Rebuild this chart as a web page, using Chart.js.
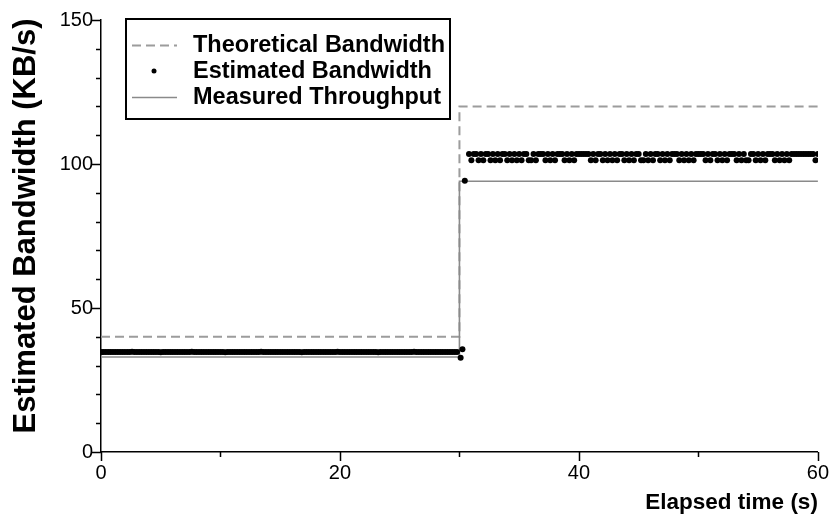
<!DOCTYPE html>
<html>
<head>
<meta charset="utf-8">
<title>Estimated Bandwidth</title>
<script src="https://cdn.jsdelivr.net/npm/chart.js@4.4.1/dist/chart.umd.min.js"></script>
<style>
  html, body { margin: 0; padding: 0; background: #fff; }
</style>
</head>
<body>
<canvas id="bandwidth-chart" width="838" height="522"></canvas>
<script>
// seconds between two bandwidth estimates
const SAMPLE_STEP = 0.2;

// step profiles (link capacity change at t = 30 s)
const stepTimes = [0, 30, 30, 60];
const theoreticalBw = [40, 40, 120, 120];
const measuredBw = [33, 33, 94, 94];

// estimates for t = 0 .. 29.8 s
const estLow = [
  34.7, 34.7, 34.7, 34.7, 34.7, 34.7, 34.7, 34.7, 34.7, 34.7,
  34.7, 34.7, 34.7, 34.8, 34.7, 34.7, 34.7, 34.7, 34.7, 34.7,
  34.7, 34.7, 34.7, 34.7, 34.7, 34.6, 34.7, 34.7, 34.7, 34.7,
  34.7, 34.7, 34.7, 34.7, 34.7, 34.7, 34.7, 34.7, 34.8, 34.7,
  34.7, 34.7, 34.7, 34.7, 34.7, 34.7, 34.7, 34.7, 34.7, 34.7,
  34.7, 34.7, 34.6, 34.7, 34.7, 34.7, 34.7, 34.7, 34.7, 34.7,
  34.7, 34.7, 34.7, 34.7, 34.7, 34.7, 34.7, 34.8, 34.7, 34.7,
  34.7, 34.7, 34.7, 34.7, 34.7, 34.7, 34.7, 34.7, 34.7, 34.7,
  34.7, 34.7, 34.7, 34.7, 34.6, 34.7, 34.7, 34.7, 34.7, 34.7,
  34.7, 34.7, 34.7, 34.7, 34.7, 34.7, 34.7, 34.7, 34.7, 34.8,
  34.7, 34.7, 34.7, 34.7, 34.7, 34.7, 34.7, 34.7, 34.7, 34.7,
  34.7, 34.7, 34.7, 34.7, 34.7, 34.7, 34.6, 34.7, 34.7, 34.7,
  34.7, 34.7, 34.7, 34.7, 34.7, 34.7, 34.7, 34.7, 34.7, 34.7,
  34.7, 34.8, 34.7, 34.7, 34.7, 34.7, 34.7, 34.7, 34.7, 34.7,
  34.7, 34.7, 34.7, 34.7, 34.7, 34.7, 34.7, 34.7, 34.7, 34.7
];

// estimates right after the switch
const estSwitchTimes = [30.1, 30.25, 30.45];
const estSwitch = [32.7, 35.7, 94.2];

// estimates for t = 30.8 .. 60 s
const estHighStart = 30.8;
const estHigh = [
  103.5, 101.3, 103.5, 103.5, 101.3, 103.5, 101.3, 103.5,
  103.5, 101.3, 103.5, 101.3, 103.5, 101.3, 103.5, 103.5,
  101.3, 103.5, 101.3, 103.5, 101.3, 103.5, 101.3, 103.5,
  103.5, 101.3, 101.3, 103.5, 101.3, 103.5, 103.5, 103.5,
  101.3, 103.5, 101.3, 103.5, 101.3, 103.5, 103.5, 103.5,
  101.3, 103.5, 101.3, 103.5, 101.3, 103.5, 103.5, 103.5,
  103.5, 103.5, 103.5, 101.3, 103.5, 101.3, 103.5, 103.5,
  101.3, 103.5, 101.3, 103.5, 101.3, 103.5, 101.3, 103.5,
  103.5, 101.3, 103.5, 101.3, 103.5, 101.3, 103.5, 103.5,
  101.3, 101.3, 103.5, 101.3, 103.5, 101.3, 103.5, 103.5,
  101.3, 103.5, 101.3, 103.5, 101.3, 103.5, 103.5, 103.5,
  101.3, 103.5, 101.3, 103.5, 101.3, 103.5, 101.3, 103.5,
  103.5, 103.5, 103.5, 101.3, 103.5, 101.3, 103.5, 103.5,
  101.3, 103.5, 101.3, 103.5, 101.3, 103.5, 103.5, 103.5,
  101.3, 103.5, 101.3, 103.5, 101.3, 101.3, 103.5, 103.5,
  101.3, 103.5, 101.3, 103.5, 101.3, 103.5, 103.5, 103.5,
  101.3, 103.5, 101.3, 103.5, 101.3, 103.5, 101.3, 103.5,
  103.5, 103.5, 103.5, 103.5, 103.5, 103.5, 103.5, 103.5,
  103.5, 101.3, 103.5
];

// axis ticks
const xTickLabels = [0, 20, 40, 60];
const xMinorTicks = [10, 30, 50];
const yTickLabels = [0, 50, 100, 150];
const yMinorTicks = [10, 20, 30, 40, 60, 70, 80, 90, 110, 120, 130, 140];

const yAxisTitle = 'Estimated Bandwidth (KB/s)';

const FONT = '"Liberation Sans", Arial, Helvetica, sans-serif';

function toPoints(xs, ys) {
    return xs.map((x, i) => ({ x: x, y: ys[i] }));
}

function estimatePoints() {
    const pts = [];
    estLow.forEach((v, i) => pts.push({ x: i * SAMPLE_STEP, y: v }));
    estSwitch.forEach((v, i) => pts.push({ x: estSwitchTimes[i], y: v }));
    estHigh.forEach((v, i) => pts.push({ x: estHighStart + i * SAMPLE_STEP, y: v }));
    return pts;
}

// tick marks of two lengths, y title and boxed legend inside the plot
const plotDecor = {
    id: 'plotDecor',
    afterDraw(chart) {
        const ctx = chart.ctx;
        const xs = chart.scales.x;
        const ys = chart.scales.y;
        const area = chart.chartArea;

        ctx.save();
        ctx.strokeStyle = '#000';
        ctx.lineWidth = 1.5;
        ctx.beginPath();
        yTickLabels.concat(yMinorTicks).forEach(v => {
            const py = Math.round(ys.getPixelForValue(v)) + 0.5;
            const len = yTickLabels.includes(v) ? 10 : 5;
            ctx.moveTo(area.left - len, py);
            ctx.lineTo(area.left, py);
        });
        xTickLabels.concat(xMinorTicks).forEach(v => {
            const px = Math.round(xs.getPixelForValue(v)) + 0.5;
            const len = xTickLabels.includes(v) ? 9 : 5;
            ctx.moveTo(px, area.bottom);
            ctx.lineTo(px, area.bottom + len);
        });
        ctx.stroke();

        // y axis title, a little above the plot centre
        ctx.save();
        ctx.translate(26, 226);
        ctx.rotate(-Math.PI / 2);
        ctx.font = 'bold 31px ' + FONT;
        ctx.fillStyle = '#000';
        ctx.textAlign = 'center';
        ctx.textBaseline = 'middle';
        ctx.fillText(yAxisTitle, 0, 0);
        ctx.restore();

        // legend
        const box = { left: 126, top: 19, right: 450, bottom: 119 };
        ctx.lineWidth = 2;
        ctx.strokeRect(box.left, box.top, box.right - box.left, box.bottom - box.top);

        const rows = [45, 71, 97];
        ctx.font = 'bold 23.5px ' + FONT;
        ctx.textBaseline = 'middle';
        ctx.textAlign = 'left';
        chart.data.datasets.forEach((ds, i) => {
            const y = rows[i];
            if (ds.showLine) {
                ctx.strokeStyle = ds.borderColor;
                ctx.lineWidth = ds.borderWidth;
                ctx.setLineDash(ds.borderDash || []);
                ctx.beginPath();
                ctx.moveTo(132, y + 0.5);
                ctx.lineTo(177, y + 0.5);
                ctx.stroke();
                ctx.setLineDash([]);
            } else {
                ctx.fillStyle = ds.backgroundColor;
                ctx.beginPath();
                ctx.arc(154, y, 2.5, 0, Math.PI * 2);
                ctx.fill();
            }
            ctx.fillStyle = '#000';
            ctx.fillText(ds.label, 193, y + 1);
        });
        ctx.restore();
    }
};

new Chart(document.getElementById('bandwidth-chart'), {
    type: 'scatter',
    data: {
        datasets: [{
            label: 'Theoretical Bandwidth',
            data: toPoints(stepTimes, theoreticalBw),
            showLine: true,
            borderColor: '#9c9c9c',
            borderWidth: 2,
            borderDash: [9, 5],
            pointRadius: 0,
            order: 2
        }, {
            label: 'Estimated Bandwidth',
            data: estimatePoints(),
            showLine: false,
            backgroundColor: '#000',
            borderWidth: 0,
            pointRadius: 3,
            order: 0
        }, {
            label: 'Measured Throughput',
            data: toPoints(stepTimes, measuredBw),
            showLine: true,
            borderColor: '#8a8a8a',
            borderWidth: 1.6,
            pointRadius: 0,
            order: 1
        }]
    },
    options: {
        responsive: false,
        animation: false,
        layout: { padding: { top: 19, right: 17, left: 0, bottom: 0 } },
        plugins: {
            legend: { display: false },
            tooltip: { enabled: false }
        },
        scales: {
            x: {
                type: 'linear',
                min: 0,
                max: 60,
                afterFit: s => { s.height = 70; },
                afterBuildTicks: s => { s.ticks = xTickLabels.map(v => ({ value: v })); },
                grid: { display: false, drawTicks: false },
                border: { display: true, color: '#000', width: 1.5 },
                ticks: { color: '#000', padding: 9, maxRotation: 0, font: { family: FONT, size: 20 } },
                title: {
                    display: true,
                    text: 'Elapsed time (s)',
                    align: 'end',
                    color: '#000',
                    padding: { top: 0, bottom: 6 },
                    font: { family: FONT, size: 22.5, weight: 'bold' }
                }
            },
            y: {
                type: 'linear',
                min: 0,
                max: 150,
                afterFit: s => { s.width = 101; },
                afterBuildTicks: s => { s.ticks = yTickLabels.map(v => ({ value: v })); },
                grid: { display: false, drawTicks: false },
                border: { display: true, color: '#000', width: 1.5 },
                ticks: { color: '#000', padding: 8, font: { family: FONT, size: 20 } }
            }
        }
    },
    plugins: [plotDecor]
});
</script>
</body>
</html>
